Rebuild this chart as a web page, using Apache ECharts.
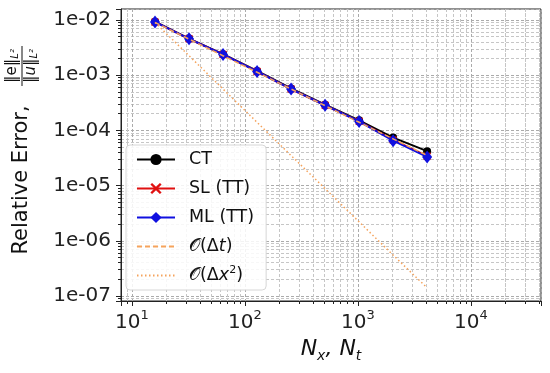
<!DOCTYPE html>
<html>
<head>
<meta charset="utf-8">
<script src="https://cdn.jsdelivr.net/npm/echarts@6/dist/echarts.min.js"></script>
<style>
  html, body { margin: 0; padding: 0; background: #fff; }
  #main { width: 550px; height: 373px; }
</style>
</head>
<body>
<div id="main"></div>
<script>
// 数据
var N = [16, 32, 64, 128, 256, 512, 1024, 2048, 4096];
var ct = [9.3e-3, 4.6e-3, 2.4e-3, 1.19e-3, 5.75e-4, 2.92e-4, 1.52e-4, 7.4e-5, 4.2e-5];
var sl = [9.2e-3, 4.55e-3, 2.38e-3, 1.17e-3, 5.6e-4, 2.85e-4, 1.46e-4, 6.7e-5, 3.4e-5];
var ml = [9.2e-3, 4.55e-3, 2.38e-3, 1.17e-3, 5.6e-4, 2.85e-4, 1.45e-4, 6.5e-5, 3.3e-5];
var orderT = [9.0e-3, 4.5e-3, 2.25e-3, 1.13e-3, 5.6e-4, 2.8e-4, 1.4e-4, 7.0e-5, 3.5e-5];
var orderX2 = [9.0e-3, 2.25e-3, 5.6e-4, 1.4e-4, 3.5e-5, 8.8e-6, 2.2e-6, 5.5e-7, 1.4e-7];
var names = ['CT', 'SL (TT)', 'ML (TT)', 'O(Δt)', 'O(Δx2)'];
// minor grid lines outside the full decades
var extraGridX = [9, 20000, 30000, 40000];
var extraGridY = [9e-8];

function pairs(ys) {
    return N.map(function (n, i) { return [n, ys[i]]; });
}

var font = 'DejaVu Sans';
var orange = '#f5a35c';
var minorGrid = { color: '#c6c6c6', type: [3, 2], width: 1 };
var cross = 'path://M0,1.5L1.5,0L5,3.5L8.5,0L10,1.5L6.5,5L10,8.5L8.5,10L5,6.5L1.5,10L0,8.5L3.5,5Z';

var myChart = echarts.init(document.getElementById('main'));

var gridMarks = extraGridX.map(function (v) { return { xAxis: v }; })
    .concat(extraGridY.map(function (v) { return { yAxis: v }; }));

var option = {
    animation: false,
    grid: { left: 121, right: 9, top: 9, bottom: 72, show: true, borderColor: '#222', borderWidth: 1 },
    xAxis: {
        type: 'log',
        logBase: 10,
        min: 8,
        max: 41700,
        name: '{i|N}{s|x}{i|, N}{s|t}',
        nameLocation: 'middle',
        nameGap: 27,
        nameTextStyle: {
            rich: {
                i: { fontFamily: font, fontStyle: 'italic', fontSize: 22, color: '#111', lineHeight: 28, verticalAlign: 'middle' },
                s: { fontFamily: font, fontStyle: 'italic', fontSize: 14, color: '#111', verticalAlign: 'bottom' }
            }
        },
        axisLine: { show: true, onZero: false, lineStyle: { color: '#222', width: 1 } },
        axisTick: { show: true, length: 5, lineStyle: { color: '#222' } },
        minorTick: { show: true, splitNumber: 9, length: 3, lineStyle: { color: '#222' } },
        splitLine: { show: true, lineStyle: { color: '#ababab', type: [3, 2], width: 1 } },
        minorSplitLine: { show: true, lineStyle: minorGrid },
        axisLabel: {
            margin: 8,
            showMinLabel: false,
            showMaxLabel: false,
            formatter: function (v) {
                var e = Math.round(Math.log10(v));
                if (Math.abs(Math.log10(v) - e) > 1e-6) return '';
                return '{b|10}{p|' + e + '}';
            },
            rich: {
                b: { fontFamily: font, fontSize: 20, color: '#222', lineHeight: 24, verticalAlign: 'bottom' },
                p: { fontFamily: font, fontSize: 13, color: '#222', verticalAlign: 'top' }
            }
        }
    },
    yAxis: {
        type: 'log',
        logBase: 10,
        min: 8.1e-8,
        max: 1.58e-2,
        axisLine: { show: true, onZero: false, lineStyle: { color: '#222', width: 1 } },
        axisTick: { show: true, length: 5, lineStyle: { color: '#222' } },
        minorTick: { show: true, splitNumber: 9, length: 3, lineStyle: { color: '#222' } },
        splitLine: { show: true, lineStyle: { color: '#ababab', type: [3, 2], width: 1 } },
        minorSplitLine: { show: true, lineStyle: minorGrid },
        axisLabel: {
            margin: 10,
            fontFamily: font,
            fontSize: 20,
            color: '#222',
            showMinLabel: false,
            showMaxLabel: false,
            formatter: function (v) {
                var e = Math.round(Math.log10(v));
                if (Math.abs(Math.log10(v) - e) > 1e-6) return '';
                var a = Math.abs(e);
                return '1e' + (e < 0 ? '-' : '+') + (a < 10 ? '0' + a : a);
            }
        }
    },
    legend: {
        orient: 'vertical',
        left: 126,
        top: 145,
        itemGap: 8,
        itemWidth: 38,
        itemHeight: 14,
        padding: [4, 12, 4, 10],
        backgroundColor: 'rgba(255,255,255,0.85)',
        borderColor: '#d6d6d6',
        borderWidth: 1,
        borderRadius: 4,
        data: [
            'CT', 'SL (TT)', 'ML (TT)',
            { name: 'O(Δt)', itemStyle: { opacity: 0 } },
            { name: 'O(Δx2)', itemStyle: { opacity: 0 } }
        ],
        textStyle: {
            fontFamily: font,
            fontSize: 17.5,
            color: '#111',
            lineHeight: 21,
            padding: [0, 0, 0, 9],
            rich: {
                o: { fontFamily: font, fontSize: 17.5, color: '#111', lineHeight: 21 },
                n: { fontFamily: font, fontSize: 17.5, color: '#111', lineHeight: 21 },
                it: { fontFamily: font, fontStyle: 'italic', fontSize: 17.5, color: '#111', lineHeight: 21 },
                sp: { fontFamily: font, fontSize: 11, color: '#111', verticalAlign: 'top' }
            }
        },
        formatter: function (name) {
            if (name === 'O(Δt)') return '{o|𝒪}{n|(Δ}{it|t}{n|)}';
            if (name === 'O(Δx2)') return '{o|𝒪}{n|(Δ}{it|x}{sp|2}{n|)}';
            return name;
        }
    },
    series: [
        {
            name: 'CT', type: 'line', data: pairs(ct), z: 3,
            symbol: 'circle', symbolSize: 8,
            lineStyle: { color: '#000', width: 2 },
            itemStyle: { color: '#000' },
            markLine: {
                silent: true, z: 1, symbol: ['none', 'none'], label: { show: false },
                emphasis: { disabled: true },
                lineStyle: minorGrid, data: gridMarks
            }
        },
        {
            name: 'SL (TT)', type: 'line', data: pairs(sl), z: 4,
            symbol: cross, symbolSize: 8,
            lineStyle: { color: '#e01010', width: 2 },
            itemStyle: { color: '#e01010' }
        },
        {
            name: 'ML (TT)', type: 'line', data: pairs(ml), z: 5,
            symbol: 'diamond', symbolSize: [10, 13],
            lineStyle: { color: '#1010e0', width: 2 },
            itemStyle: { color: '#1010e0' }
        },
        {
            name: 'O(Δt)', type: 'line', data: pairs(orderT), z: 6,
            symbol: 'none',
            lineStyle: { color: orange, width: 1.5, type: [5, 3] },
            itemStyle: { color: orange }
        },
        {
            name: 'O(Δx2)', type: 'line', data: pairs(orderX2), z: 6,
            symbol: 'none',
            lineStyle: { color: orange, width: 1.5, type: [1.5, 2.5] },
            itemStyle: { color: orange }
        }
    ],
    graphic: [
        {
            type: 'text',
            x: 22, y: 180,
            rotation: Math.PI / 2,
            style: {
                text: 'Relative Error,',
                fontFamily: font, fontSize: 21, fill: '#111',
                align: 'center', verticalAlign: 'middle'
            }
        },
        {
            type: 'group',
            x: 22, y: 66,
            rotation: Math.PI / 2,
            children: [
                {
                    type: 'text', x: 0, y: -2,
                    style: {
                        text: '{m|‖e‖}{s|L²}',
                        align: 'center', verticalAlign: 'bottom',
                        rich: {
                            m: { fontFamily: font, fontSize: 15, fill: '#111' },
                            s: { fontFamily: font, fontStyle: 'italic', fontSize: 10, fill: '#111', verticalAlign: 'bottom' }
                        }
                    }
                },
                { type: 'line', shape: { x1: -20, y1: 0, x2: 20, y2: 0 }, style: { stroke: '#111', lineWidth: 1 } },
                {
                    type: 'text', x: 0, y: 2,
                    style: {
                        text: '{m|‖u‖}{s|L²}',
                        align: 'center', verticalAlign: 'top',
                        rich: {
                            m: { fontFamily: font, fontStyle: 'italic', fontSize: 15, fill: '#111' },
                            s: { fontFamily: font, fontStyle: 'italic', fontSize: 10, fill: '#111', verticalAlign: 'bottom' }
                        }
                    }
                }
            ]
        }
    ]
};

myChart.setOption(option);
</script>
</body>
</html>
